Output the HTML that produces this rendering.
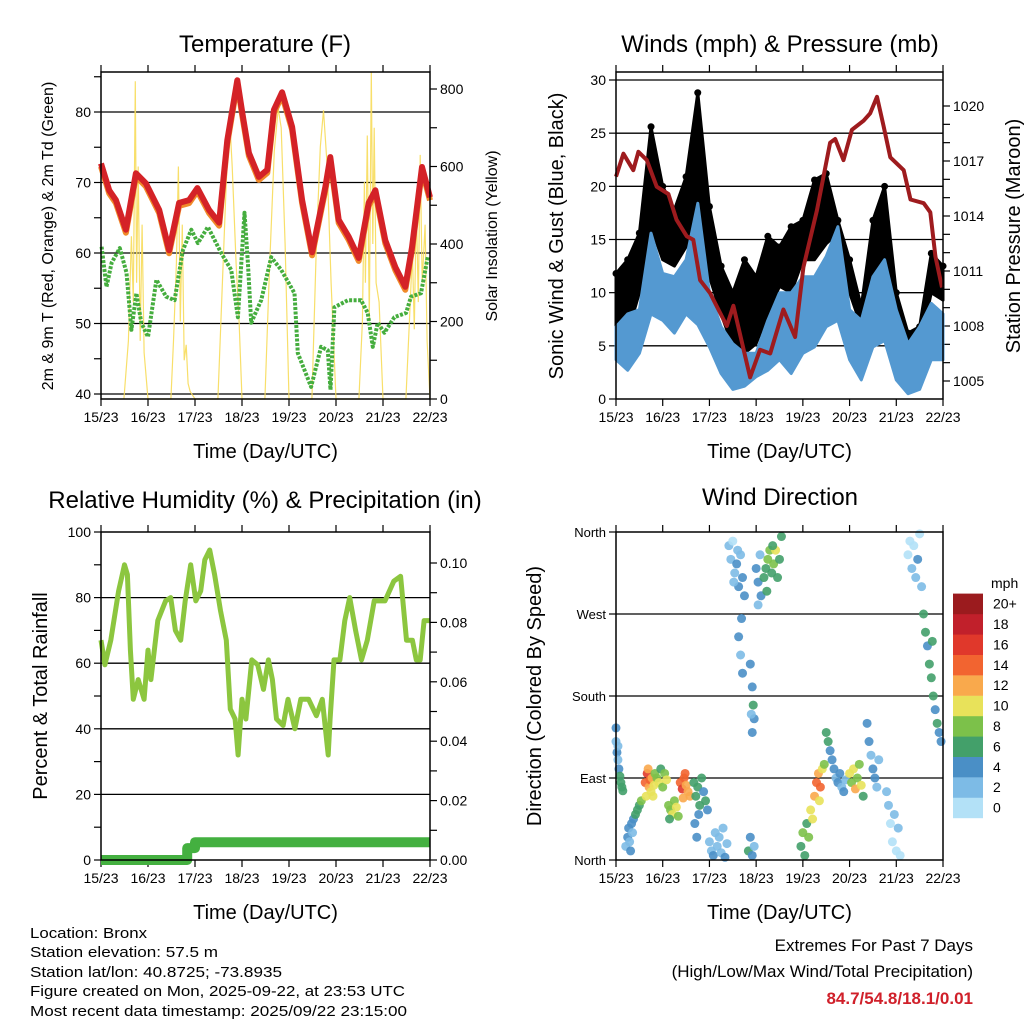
<!DOCTYPE html>
<html><head><meta charset="utf-8"><style>
body{margin:0;background:#fff}
svg text{font-family:"Liberation Sans",sans-serif;fill:#000}
</style></head><body>
<svg id="fig" width="1024" height="1024" viewBox="0 0 1024 1024" xmlns="http://www.w3.org/2000/svg">
<rect width="1024" height="1024" fill="#fff"/>
<g id="layer"></g>
<g font-size="15">
<text x="30" y="938" textLength="117" lengthAdjust="spacingAndGlyphs">Location: Bronx</text>
<text x="30" y="957" textLength="188" lengthAdjust="spacingAndGlyphs">Station elevation: 57.5 m</text>
<text x="30" y="977" textLength="252" lengthAdjust="spacingAndGlyphs">Station lat/lon: 40.8725; -73.8935</text>
<text x="30" y="996" textLength="375" lengthAdjust="spacingAndGlyphs">Figure created on Mon, 2025-09-22, at 23:53 UTC</text>
<text x="30" y="1016" textLength="377" lengthAdjust="spacingAndGlyphs">Most recent data timestamp: 2025/09/22 23:15:00</text>
</g>
<g>
<text x="973" y="951" font-size="17" text-anchor="end">Extremes For Past 7 Days</text>
<text x="973" y="977" font-size="17" text-anchor="end">(High/Low/Max Wind/Total Precipitation)</text>
<text x="973" y="1004" font-size="17" font-weight="bold" text-anchor="end" style="fill:#d0202a">84.7/54.8/18.1/0.01</text>
</g>
</svg>
<script>
// ---------- data ----------
const dayLabels=["15/23","16/23","17/23","18/23","19/23","20/23","21/23","22/23"];
const tempHours=[0,4.2,7.6,12.7,17.8,22.9,29.7,34.8,39.9,45,49.2,55.2,60.3,64.5,69.6,72.2,75.5,80.6,84.9,88.3,92.5,97.6,102.7,107.8,114.6,117.1,121.4,126.5,131.6,136.7,140.1,145.2,150.3,155.4,158.8,163.9,168];
const tempVals=[72.7,68.9,67.5,63.3,71.3,69.9,66.1,60.4,67.1,67.5,69.2,66.1,64.3,76,84.5,79.8,74.2,70.8,71.8,80.3,82.8,77.9,67.5,60.1,69.4,73.6,64.7,62.3,59.3,67.1,68.9,61.8,58.0,55.2,60.8,72.2,67.9];
const dewHours=[0.3,2.8,5.4,9.6,13,15.5,18.1,20.6,24,28.3,33.3,37.6,41.8,46.1,49.5,54.6,61.4,66.5,69.9,73.3,75,76.7,81.8,86.9,92,98.8,100.5,107.3,112.4,115.8,117.2,119.2,126.1,132.8,136.2,138.8,141.3,144.7,149.8,155.8,158.3,163.4,166.8];
const dewVals=[60.9,55.2,58.6,60.7,57.2,49.1,54.3,50.1,48.1,56.2,53.8,53.3,60.4,63.3,61.4,63.7,60,57.6,50.9,65.7,58.6,50.1,53.3,59.4,57.6,54.3,45.8,41,46.7,46.2,40.6,52.3,53.3,53.3,51.5,46.7,50.1,48.7,50.9,51.5,53.8,54.3,59.4];
const solarHours=[11.7,14,15.5,16.5,17.5,18.2,19,20,21,22,24, 35.7,37,38.5,39.5,40.5,41.5,42.5,43.5,44.5,45.5,48, 59.7,62,64,65.5,67,69,70.5,72, 83.7,86,88.5,90.5,92,94,96, 107.7,110,112,113.6,115.5,117.5,120, 131.7,133.5,134.5,135,136,137,138,138.8,139.5,140.5,142,144, 155.7,157.5,159,160,161,162,163,164,165.5,166.5,168];
const solarVals=[0,150,420,250,820,300,600,150,450,120,0, 0,150,350,600,200,450,100,140,40,20,0, 0,300,560,740,600,350,200,0, 0,330,640,750,700,400,0, 0,400,650,745,600,300,0, 0,200,560,300,680,200,845,400,700,300,250,0, 0,200,380,180,500,250,630,300,450,150,0];
const presHours=[0,3.8,8.9,11.5,15.8,20.9,26.9,31.1,36.3,39.7,43.2,48.3,56.9,60.3,68.9,74,79.2,86,92,96.3,103.2,110,112.6,116.9,121.2,127.2,130.6,134.1,137.5,140.9,147.8,151.3,158.1,161.5,164.1,167.5];
const presVals=[1016.15,1017.4,1016.5,1017.5,1017.05,1015.6,1015.2,1013.8,1012.9,1012.7,1010.5,1009.8,1008,1009.1,1005.2,1006.7,1006.5,1008.9,1007.4,1011.2,1014.3,1018,1018.2,1017.05,1018.7,1019.2,1019.6,1020.5,1018.9,1017.2,1016.5,1014.9,1014.7,1014.2,1011.8,1010.1];
const windHours=[0,6,12,18,24,30,36,42,48,54,60,66,72,78,84,90,96,102,108,114,120,126,132,138,144,150,156,162,168];
const windHi=[6.8,8.0,8.4,15.6,11.8,11.5,13.1,18.4,10.0,6.8,5.2,4.3,4.3,7.4,10.0,10.0,11.5,11.5,13.4,16.2,8.4,7.4,11.5,13.1,8.4,5.2,6.8,9.0,8.0];
const windLo=[3.7,2.7,4.3,8.0,7.4,6.2,8.0,7.0,4.9,2.4,0.9,1.2,2.1,2.7,3.7,2.4,4.3,4.9,6.8,7.4,3.7,1.8,4.9,5.5,1.8,0.5,0.9,3.7,3.7];
const gustHi=[11.8,13.1,15.6,25.6,20.0,17.8,20.9,28.8,18.1,12.5,10.0,13.1,11.5,15.3,14.3,16.2,16.8,20.6,21.2,16.8,13.1,8.7,16.8,20.0,10.0,6.2,6.8,13.7,12.5];
const gustLo=[6.8,6.2,10.0,16.2,13.1,12.5,14.3,17.8,11.5,8.0,4.9,4.3,5.2,8.0,10.6,10.0,13.1,13.1,14.6,15.6,10.0,6.8,11.8,13.1,7.4,4.3,4.9,10.0,9.3];
const rhHours=[0,2,5,9,12,13.5,15,16.5,19,22,24,25.5,29,33,35.6,38,40.7,43,45.8,48.4,50.9,53,55.5,58,61,64,66,68.5,70,72,74,77,80,83,85.5,87.5,89.6,93,95.5,99,102,106,110,113,116,117,119,122,124.5,127,130,133,136,139.5,145,149.5,153,156,159,161,163,165,167,168];
const rhVals=[67,59.5,67,82,90,87,64,49,55,49,64,55,73,79,80,70,67,79,90,79,82,91.5,94.5,87,76,67,46,43,32,49,43,61,59.5,52,61,55,43,41,49,40,49,49,44,49,32,43,61,61,73,80,70,61,67,79,79,85,86.5,67,67,61,61,73,73,73];
const rainHours=[0,44,44,48,48,168];
const rainVals=[0,0,0.004,0.004,0.006,0.006];
const dirHours=[0,0.5,1,1.5,2,2.5,3,3.5,0,1, 5,6,6.5,7,8,8.5,9,10,11,12,13,7.5, 15,16,16.5,17,17.5,18,18.5,19,19.5,15.5, 20,21,22,23,24,25,26, 27,28,29,30,31,32,27.5, 33,34,35,36,37,38,35.5,34.5, 40,41,42,43,44,45,46,40.5,41.5,42.5,47, 48,49,50,51,52,53,54,55,56,57, 58,59,60,61,62,63,64,65,66,60.5,62.5, 63,64,65,64.5, 69,70,70.5,71,69.5,70, 68,69,70,71, 72,73,74,73,74.5, 76,77,78,79,80,81,82,83,84,85,77.5,80.5, 95,96,97,98,99,100,101, 102,103,104,105,106,104.5,107, 108,109,110,111, 112,113,114,115,116,117,118, 120,121,122,123,124,125,126,127, 129,130,131,132,133,134,135, 140,141,142,143,144,145,146,139, 150,151,152,153,154,155,156,157, 158,159,160,161,162,163,164,165,166,167,162.5];
const dirDeg=[130,118,110,100,92,85,80,76,145,125, 15,25,35,20,40,30,45,50,55,60,65,10, 85,95,100,80,88,75,90,70,82,70, 95,90,85,100,80,95,88, 60,55,50,65,58,48,45, 85,78,90,82,75,70,95,68, 85,70,80,60,90,75,65,40,25,50,55, 20,10,5,30,15,25,8,35,3,18, 345,330,350,315,325,300,335,310,290,305,340, 245,225,205,265, 215,190,170,155,160,140, 10,25,5,15, 320,305,335,280,290, 310,320,330,340,315,325,340,310,330,355,295,345, 15,30,5,40,25,55,45, 70,85,95,80,100,65,105, 140,130,120,110, 100,90,85,95,80,75,88, 95,85,100,78,90,105,82,70, 150,130,115,100,90,80,110, 60,40,20,50,10,35,5,75, 335,350,320,345,310,330,358,300, 270,250,235,215,200,180,165,150,140,130,240];
const dirSpeed=[3,4,3,4,6,6,6,7,4,3, 3,4,4,3,4,3,4,7,7,6,8,4, 14,16,13,12,15,10,12,10,11,10, 8,9,10,7,9,8,10, 8,9,10,8,10,9,7, 14,16,15,13,12,12,14,13, 6,7,6,7,6,5,6,4,4,4,4, 3,2,4,3,2,2,3,2,4,2, 2,2,1,3,4,4,3,4,4,3,2, 4,3,4,4, 4,4,6,4,2,4, 6,4,4,2, 4,4,2,2,4, 6,7,8,8,7,8,10,6,7,6,6,7, 6,8,7,6,8,10,11, 12,14,12,15,11,10,8, 6,6,5,4, 4,3,4,4,3,4,2, 10,8,11,12,8,9,10,7, 4,4,3,4,4,3,2, 2,1,1,2,1,2,0,2, 1,0,2,1,2,4,1,3, 6,6,4,6,6,7,4,6,4,4,7];
const speedColors=["#b3e1f7","#7dbbe6","#4a8fc6","#43a06a","#7cc14a","#e8e25a","#f9a94c","#f26430","#e0382b","#c1202b","#9b1b1e"];
const speedLabels=["0","2","4","6","8","10","12","14","16","18","20+"];

// ---------- helpers ----------
const NS="http://www.w3.org/2000/svg";
const root=document.getElementById('layer');
function mk(tag,attrs,parent){const e=document.createElementNS(NS,tag);for(const k in attrs)e.setAttribute(k,attrs[k]);(parent||root).appendChild(e);return e;}
function txt(s,attrs,parent){const e=mk('text',attrs,parent);e.textContent=s;return e;}
function lin(d0,d1,r0,r1){return v=>r0+(v-d0)*(r1-r0)/(d1-d0);}
function pathFrom(xs,ys,fx,fy){return xs.map((h,i)=>(i?'L':'M')+fx(h).toFixed(1)+' '+fy(ys[i]).toFixed(1)).join(' ');}

function panel(name){
  const g=mk('g',{});
  
  
  return g;
}
function frame(g,x0,x1,y0,y1){
  const r=mk('rect',{x:x0,y:y0,width:x1-x0,height:y1-y0,fill:'none',stroke:'#000','stroke-width':1.5},g);
  
  
}
function xAxis(g,x0,x1,y0,y1){
  const fx=lin(0,168,x0,x1);
  for(let d=0;d<8;d++){
    const x=fx(d*24);
    mk('line',{x1:x,x2:x,y1:y1,y2:y1+7,stroke:'#000','stroke-width':1.2},g);
    mk('line',{x1:x,x2:x,y1:y0,y2:y0-7,stroke:'#000','stroke-width':1.2},g);
    const t=txt(dayLabels[d],{x:x,y:y1+23,'font-size':14,'text-anchor':'middle'},g);
    
    
  }
  const t=txt('Time (Day/UTC)',{x:(x0+x1)/2,y:y1+59,'font-size':20,'text-anchor':'middle'},g);
  
  
  return fx;
}
function yTicks(g,vals,labels,fy,x,side,grid,x0,x1,fs){
  vals.forEach((v,i)=>{
    const y=fy(v);
    const dx=side==='l'?-7:7;
    mk('line',{x1:x,x2:x+dx,y1:y,y2:y,stroke:'#000','stroke-width':1.2},g);
    if(grid) mk('line',{x1:x0,x2:x1,y1:y,y2:y,stroke:'#000','stroke-width':1.3},g);
    if(labels[i]!==''){
      const t=txt(labels[i],{x:x+(side==='l'?-10:10),y:y+5,'font-size':fs||14,'text-anchor':side==='l'?'end':'start'},g);
      
      
    }
  });
}
function title(g,s,x,y){const t=txt(s,{x:x,y:y,'font-size':24,'text-anchor':'middle'},g);}
function vtitle(g,s,x,y,fs,name){const t=txt(s,{x:0,y:0,'font-size':fs,'text-anchor':'middle',transform:`translate(${x},${y}) rotate(-90)`},g);}

// ---------- Panel 1: Temperature ----------
(function(){
  const X0=101,X1=430,Y0=72,Y1=399;
  const g=panel('temperature-panel');
  const fy=lin(40,80,394,112), fs=lin(0,800,399,89);
  yTicks(g,[40,50,60,70,80],['40','50','60','70','80'],fy,X0,'l',true,X0,X1);
  yTicks(g,[45,55,65,75,85],['','','','',''],fy,X0,'l',false);
  yTicks(g,[0,200,400,600,800],['0','200','400','600','800'],fs,X1,'r',false);
  yTicks(g,[100,300,500,700],['','','',''],fs,X1,'r',false);
  const fx=xAxis(g,X0,X1,Y0,Y1);
  const sol=mk('path',{d:pathFrom(solarHours,solarVals,fx,fs),fill:'none',stroke:'#f7dc5a','stroke-width':1.2,'stroke-opacity':0.9},g);
  
  
  const dew=mk('path',{d:pathFrom(dewHours,dewVals,fx,fy),fill:'none',stroke:'#45ad3e','stroke-width':4,'stroke-dasharray':'3 1.5','stroke-linejoin':'round'},g);
  
  
  const t9=mk('path',{d:pathFrom(tempHours,tempVals,fx,fy),fill:'none',stroke:'#f08a2a','stroke-width':6,transform:'translate(0,3)','stroke-linejoin':'round'},g);
  
  
  const t2=mk('path',{d:pathFrom(tempHours,tempVals,fx,fy),fill:'none',stroke:'#d42227','stroke-width':6,'stroke-linejoin':'round'},g);
  
  
  frame(g,X0,X1,Y0,Y1);
  title(g,'Temperature (F)',265,52);
  vtitle(g,'2m & 9m T (Red, Orange) & 2m Td (Green)',53,236,16,'y-axis-title');
  vtitle(g,'Solar Insolation (Yellow)',497,236,16,'y2-axis-title');
})();

// ---------- Panel 2: Winds & Pressure ----------
(function(){
  const X0=616,X1=943,Y0=72,Y1=399;
  const g=panel('winds-panel');
  const fy=lin(0,30,399,80), fp=lin(1005,1020,381,106);
  yTicks(g,[0,5,10,15,20,25,30],['0','5','10','15','20','25','30'],fy,X0,'l',false);
  [5,10,15,20,25,30].forEach(v=>mk('line',{x1:X0,x2:X1,y1:fy(v),y2:fy(v),stroke:'#000','stroke-width':1.3},g));
  yTicks(g,[1005,1008,1011,1014,1017,1020],['1005','1008','1011','1014','1017','1020'],fp,X1,'r',false);
  yTicks(g,[1006,1007,1009,1010,1012,1013,1015,1016,1018,1019],['','','','','','','','','',''],fp,X1,'r',false);
  const fx=xAxis(g,X0,X1,Y0,Y1);
  const gd=pathFrom(windHours,gustHi,fx,fy)+' '+windHours.slice().reverse().map((h,i)=>'L'+fx(h).toFixed(1)+' '+fy(gustLo[gustLo.length-1-i]).toFixed(1)).join(' ')+'Z';
  const gb=mk('path',{d:gd,fill:'#000',stroke:'#000','stroke-width':3,'stroke-linejoin':'round'},g);
  
  
  windHours.forEach((h,i)=>{
    const c=mk('circle',{cx:fx(h),cy:fy(gustHi[i]),r:3.5,fill:'#000'},g);
    
    
  });
  const wd=pathFrom(windHours,windHi,fx,fy)+' '+windHours.slice().reverse().map((h,i)=>'L'+fx(h).toFixed(1)+' '+fy(windLo[windLo.length-1-i]).toFixed(1)).join(' ')+'Z';
  const wb=mk('path',{d:wd,fill:'#5499d1',stroke:'#5499d1','stroke-width':3,'stroke-linejoin':'round'},g);
  
  
  const pl=mk('path',{d:pathFrom(presHours,presVals,fx,fp),fill:'none',stroke:'#9e1b1e','stroke-width':4,'stroke-linejoin':'round'},g);
  
  
  frame(g,X0,X1,Y0,Y1);
  title(g,'Winds (mph) & Pressure (mb)',780,52);
  vtitle(g,'Sonic Wind & Gust (Blue, Black)',563,236,20,'y-axis-title');
  vtitle(g,'Station Pressure (Maroon)',1020,236,20,'y2-axis-title');
})();

// ---------- Panel 3: RH & Precip ----------
(function(){
  const X0=101,X1=430,Y0=532,Y1=860;
  const g=panel('humidity-panel');
  const fy=lin(0,100,860,532), fr=lin(0,0.1,860,563);
  yTicks(g,[0,20,40,60,80,100],['0','20','40','60','80','100'],fy,X0,'l',false);
  [20,40,60,80].forEach(v=>mk('line',{x1:X0,x2:X1,y1:fy(v),y2:fy(v),stroke:'#000','stroke-width':1.3},g));
  yTicks(g,[10,30,50,70,90],['','','','',''],fy,X0,'l',false);
  yTicks(g,[0,0.02,0.04,0.06,0.08,0.1],['0.00','0.02','0.04','0.06','0.08','0.10'],fr,X1,'r',false);
  yTicks(g,[0.01,0.03,0.05,0.07,0.09],['','','','',''],fr,X1,'r',false);
  const fx=xAxis(g,X0,X1,Y0,Y1);
  const rl=mk('path',{d:pathFrom(rhHours,rhVals,fx,fy),fill:'none',stroke:'#8cc63f','stroke-width':5,'stroke-linejoin':'round'},g);
  
  
  const pr=mk('path',{d:pathFrom(rainHours,rainVals,fx,fr),fill:'none',stroke:'#44b040','stroke-width':10,'stroke-linejoin':'round'},g);
  
  
  frame(g,X0,X1,Y0,Y1);
  title(g,'Relative Humidity (%) & Precipitation (in)',265,508);
  vtitle(g,'Percent & Total Rainfall',47,696,20,'y-axis-title');
})();

// ---------- Panel 4: Wind direction ----------
(function(){
  const X0=616,X1=943,Y0=532,Y1=860;
  const g=panel('wind-direction-panel');
  const fy=lin(0,360,860,532);
  yTicks(g,[0,90,180,270,360],['North','East','South','West','North'],fy,X0,'l',false,0,0,13);
  [90,180,270].forEach(v=>mk('line',{x1:X0,x2:X1,y1:fy(v),y2:fy(v),stroke:'#000','stroke-width':1.3},g));
  const fx=xAxis(g,X0,X1,Y0,Y1);
  dirHours.forEach((h,i)=>{
    const idx=Math.min(10,Math.floor(dirSpeed[i]/2));
    const c=mk('circle',{cx:fx(h),cy:fy(dirDeg[i]),r:4.5,fill:speedColors[idx],'fill-opacity':0.9},g);
    
    
  });
  frame(g,X0,X1,Y0,Y1);
  title(g,'Wind Direction',780,505);
  vtitle(g,'Direction (Colored By Speed)',541,696,20,'y-axis-title');
  const lg=mk('g',{},g);
  
  
  const cb=txt('mph',{x:991,y:588,'font-size':14},lg);
  
  
  speedColors.forEach((c,i)=>{
    const y=818-(i+1)*20.4;
    const r=mk('rect',{x:953,y:y,width:30,height:20.6,fill:c},lg);
    
    
    const t=txt(speedLabels[i],{x:993,y:y+15,'font-size':14},lg);
    
    
  });
})();
</script>
</body></html>
